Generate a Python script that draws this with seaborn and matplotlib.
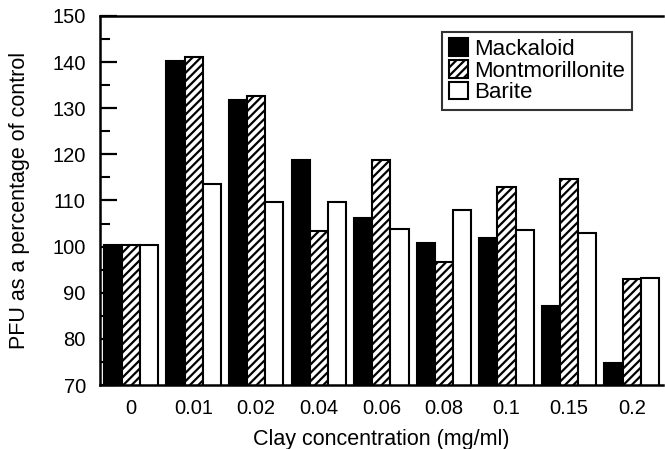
import matplotlib
matplotlib.use("Agg")
import matplotlib.pyplot as plt
import seaborn as sns
import pandas as pd
from matplotlib.ticker import MultipleLocator

concentrations = ["0", "0.01", "0.02", "0.04", "0.06", "0.08", "0.1", "0.15", "0.2"]
mackaloid = [100.3, 140.2, 131.7, 118.8, 106.2, 100.8, 101.8, 87.2, 74.8]
montmorillonite = [100.3, 141.2, 132.7, 103.4, 118.7, 96.6, 113.0, 114.7, 93.0]
barite = [100.3, 113.6, 109.7, 109.7, 103.8, 108.0, 103.7, 102.9, 93.2]
series = ["Mackaloid", "Montmorillonite", "Barite"]

df = pd.DataFrame({
    "conc": concentrations * 3,
    "value": mackaloid + montmorillonite + barite,
    "clay": [series[0]] * 9 + [series[1]] * 9 + [series[2]] * 9,
})

sns.set_style("white")
plt.rcParams['font.family'] = ['Liberation Sans', 'DejaVu Sans']
plt.rcParams['hatch.linewidth'] = 1.6
plt.rcParams['text.color'] = 'black'
plt.rcParams['axes.labelcolor'] = 'black'
plt.rcParams['xtick.color'] = 'black'
plt.rcParams['ytick.color'] = 'black'

fig = plt.figure(figsize=(6.65, 4.49), dpi=100)
ax = fig.add_axes([0.150, 0.1425, 0.847, 0.822])

sns.barplot(data=df, x="conc", y="value", hue="clay", order=concentrations,
            hue_order=series, palette=["black", "white", "white"],
            width=0.87, edgecolor="black", linewidth=1.5, ax=ax)

hatches = ["", "////", ""]
for cont, h in zip(ax.containers, hatches):
    for bar in cont:
        bar.set_hatch(h)
        bar.set_edgecolor("black")

ax.set_ylim(70, 150)
ax.set_xlim(-0.5, 8.5)
ax.yaxis.set_major_locator(MultipleLocator(10))
ax.yaxis.set_minor_locator(MultipleLocator(5))
ax.tick_params(axis="y", which="major", direction="in", length=12, width=1.6,
               labelsize=14.5, left=True, pad=10)
ax.tick_params(axis="y", which="minor", direction="in", length=7, width=1.5, left=True)
ax.tick_params(axis="x", length=0, labelsize=14.5, pad=10)

for s in ["left", "bottom", "top"]:
    ax.spines[s].set_visible(True)
    ax.spines[s].set_linewidth(1.8)
    ax.spines[s].set_color("black")
ax.spines["right"].set_visible(False)

ax.set_xlabel("Clay concentration (mg/ml)", fontsize=15.5, labelpad=8)
ax.set_ylabel("PFU as a percentage of control", fontsize=15.5, labelpad=16)

leg = ax.legend(loc="upper right", bbox_to_anchor=(0.945, 0.957), fontsize=16,
                frameon=True, fancybox=False, edgecolor="black",
                handlelength=0.85, handleheight=0.85, handletextpad=0.3,
                labelspacing=0.0, borderpad=0.3, borderaxespad=0)
leg.get_frame().set_linewidth(1.5)
for p, h in zip(leg.get_patches(), hatches):
    p.set_hatch(h)
    p.set_edgecolor("black")

fig.savefig("out.png", dpi=100)
